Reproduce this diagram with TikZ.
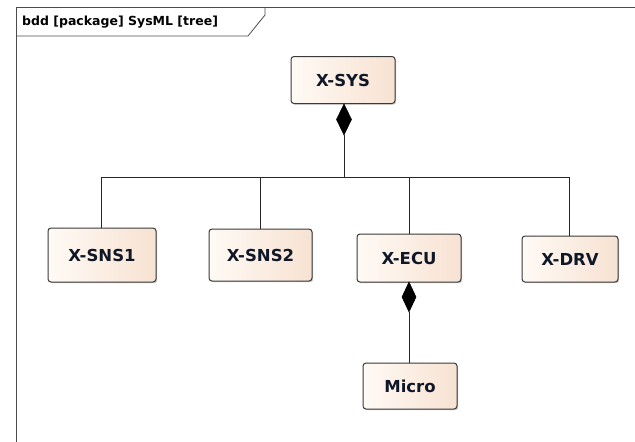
\documentclass[tikz,border=0pt]{standalone}
\usepackage{fontspec}
\setmainfont{DejaVu Sans}
\usetikzlibrary{shadows}
\definecolor{boxline}{HTML}{3A3A3A}
\definecolor{boxleft}{HTML}{FFFAF5}
\definecolor{boxright}{HTML}{F7E2D2}
\definecolor{txt}{HTML}{101828}
\tikzset{
  blk/.style={draw=boxline, line width=1pt, rounded corners=3pt,
    left color=boxleft, right color=boxright, shading angle=90,
    drop shadow={shadow xshift=1.2pt, shadow yshift=-1.2pt, fill=black!35, opacity=0.6},
    font=\bfseries\fontsize{16.5}{19}\selectfont, text=txt, inner sep=0pt},
  conn/.style={draw=black!85, line width=0.8pt},
  comp/.style={fill=black, draw=black, line width=0.5pt},
  frm/.style={draw=black!70, line width=0.8pt}
}
\begin{document}
\begin{tikzpicture}[x=1pt,y=-1pt]
\useasboundingbox (0,0) rectangle (635,442);
% frame
\draw[frm] (16,442) -- (16,7) -- (635,7);
\draw[frm] (16,36) -- (248,36) -- (265,15) -- (265,7);
\node[anchor=west, font=\bfseries\fontsize{12.5}{14}\selectfont, inner sep=0pt] (lbl) at (22,22) {bdd [package] SysML [tree]};
% blocks
\node[blk, minimum width=104pt, minimum height=47pt] (sys) at (343,80) {X-SYS};
\node[blk, minimum width=108pt, minimum height=54pt] (sns1) at (102,255) {X-SNS1};
\node[blk, minimum width=103pt, minimum height=52pt] (sns2) at (260.5,255) {X-SNS2};
\node[blk, minimum width=104pt, minimum height=48pt] (ecu) at (409,258) {X-ECU};
\node[blk, minimum width=96pt, minimum height=46pt] (drv) at (570,259) {X-DRV};
\node[blk, minimum width=94pt, minimum height=46pt] (mic) at (410,386) {Micro};
% composition X-SYS
\coordinate (d1t) at (344,104);
\coordinate (d1b) at (344,135);
\coordinate (bar) at (344,177);
\draw[comp] (d1t) -- (351.5,119.5) -- (d1b) -- (336.5,119.5) -- cycle;
\draw[conn] (d1b) -- (bar);
\coordinate (b1) at (101,177);
\coordinate (b2) at (260,177);
\coordinate (b3) at (409,177);
\coordinate (b4) at (569,177);
\draw[conn] (b1) -- (b4);
\draw[conn] (b1) -- (b1 |- sns1.north);
\draw[conn] (b2) -- (b2 |- sns2.north);
\draw[conn] (b3) -- (b3 |- ecu.north);
\draw[conn] (b4) -- (b4 |- drv.north);
% composition X-ECU
\coordinate (d2t) at (409,282);
\coordinate (d2b) at (409,312);
\draw[comp] (d2t) -- (416,297) -- (d2b) -- (402,297) -- cycle;
\draw[conn] (d2b) -- (d2b |- mic.north);
\end{tikzpicture}
\end{document}
